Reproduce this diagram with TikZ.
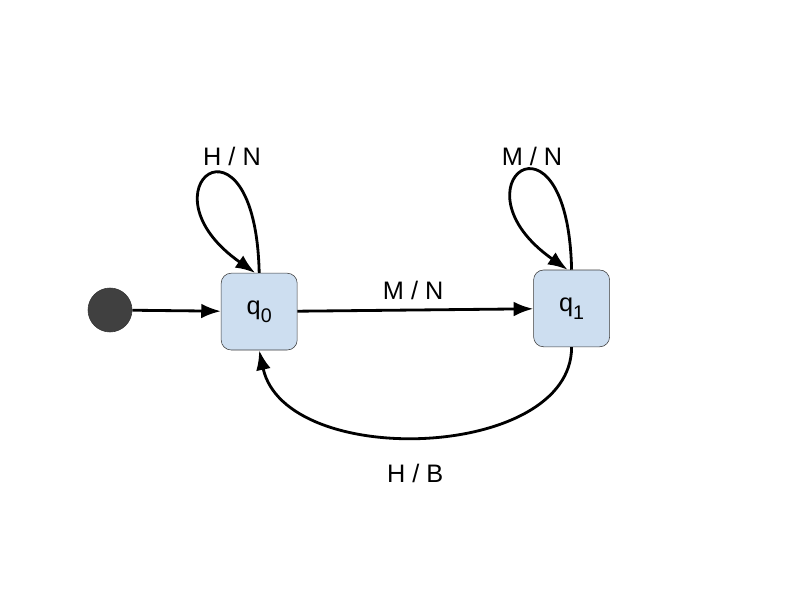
\documentclass[tikz,border=0pt]{standalone}
\usepackage{fontspec}
\setmainfont{Liberation Sans}
\usetikzlibrary{arrows.meta}
\definecolor{etatbleu}{RGB}{205,222,240}
\definecolor{etatbord}{RGB}{60,60,60}
\definecolor{initgris}{RGB}{64,64,64}
\newcommand{\indice}[1]{\raisebox{-0.6ex}{\fontsize{14}{14}\selectfont #1}}
\begin{document}
\begin{tikzpicture}
%environnement
\useasboundingbox[fill=white] (0,0) rectangle (20,15);
\tikzstyle{trans}=[-{Latex[length=14pt,width=10.5pt]},line width=2pt]
\tikzstyle{etat}=[draw=etatbord,fill=etatbleu,rounded corners=0.25cm,
                  minimum width=1.9cm,minimum height=1.92cm,font=\fontsize{18}{20}\selectfont]
\tikzstyle{etiq}=[font=\fontsize{18}{20}\selectfont]

%the states
  \node[circle,draw=initgris!80!black,fill=initgris,minimum size=1.1cm,inner sep=0] (init) at (2.75,7.25) {};
  \node[etat] (q0) at (6.48,7.21) {q\indice{0}};
  \node[etat] (q1) at (14.29,7.29) {q\indice{1}};

%the transitions
  \draw[trans] (init) -- (q0);
  \draw[trans] (q0) -- (q1);
  \draw[trans] (q0.north) .. controls +(-0.1,4.4) and +(-3.0,2.1) .. ([xshift=-1mm]q0.north);
  \draw[trans] (q1.north) .. controls +(-0.1,4.4) and +(-3.0,2.1) .. ([xshift=-1mm]q1.north);
  \draw[trans] (q1.south) .. controls +(0,-2.83) and +(0.65,-3) .. (q0.south);

%labels
  \node[etiq] (l00) at (5.8,11.1) {H / N};
  \node[etiq] (l11) at (13.3,11.1) {M / N};
  \node[etiq] (l01) at (10.33,7.75) {M / N};
  \node[etiq] (l10) at (10.38,3.17) {H / B};

\end{tikzpicture}
\end{document}
